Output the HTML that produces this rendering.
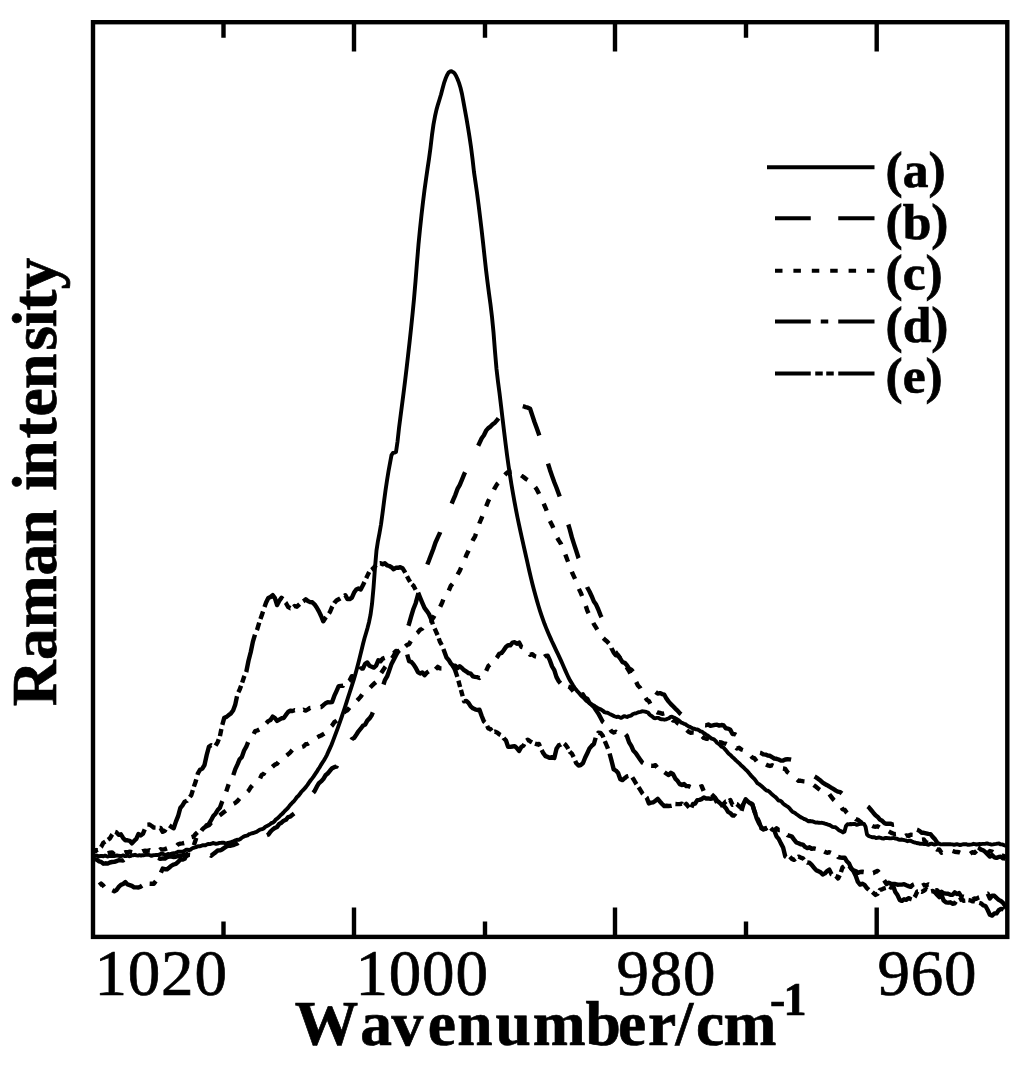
<!DOCTYPE html>
<html><head><meta charset="utf-8"><title>Raman spectra</title>
<style>
html,body{margin:0;padding:0;background:#fff;}
svg{display:block;}
text{font-family:"Liberation Serif","Times New Roman",serif;fill:#000;font-kerning:none;font-feature-settings:"kern" 0;stroke:#000;stroke-width:0.7;}
.b{font-weight:bold;}
</style></head><body>
<svg width="1024" height="1074" viewBox="0 0 1024 1074">
<rect x="0" y="0" width="1024" height="1074" fill="#fff"/>
<defs><clipPath id="pa"><rect x="93" y="22.2" width="914.3" height="914.6999999999999"/></clipPath></defs>
<g fill="none" stroke="#000" stroke-width="4.4" stroke-linejoin="round" clip-path="url(#pa)">
<!-- (a) -->
<path d="M94.5,855.5 L96.0,855.6 L97.5,855.8 L99.0,856.3 L100.5,856.0 L102.0,856.0 L103.5,856.2 L105.0,855.6 L106.5,856.1 L108.0,856.5 L109.5,856.0 L111.0,855.9 L112.5,856.1 L114.0,856.0 L115.5,855.8 L117.0,855.4 L118.5,855.8 L120.0,856.0 L121.5,856.0 L123.0,855.4 L124.5,856.0 L126.0,856.1 L127.5,855.7 L129.0,856.2 L130.5,856.1 L132.0,855.2 L133.5,855.2 L135.0,854.8 L136.5,855.4 L138.0,855.6 L139.5,855.2 L141.0,855.6 L142.5,855.1 L144.0,855.2 L145.5,854.8 L147.0,854.6 L148.5,854.7 L150.0,855.3 L151.5,855.9 L153.0,855.3 L154.5,855.1 L156.0,855.0 L157.5,855.0 L159.0,854.6 L160.5,854.0 L162.0,853.7 L163.5,854.2 L165.0,855.1 L166.5,854.7 L168.0,853.9 L169.5,854.3 L171.0,854.0 L172.5,853.4 L174.0,853.1 L175.5,852.8 L177.0,852.3 L178.5,851.6 L180.0,851.7 L181.5,851.6 L183.0,851.5 L184.5,850.9 L186.0,849.8 L187.5,849.7 L189.0,850.2 L190.5,849.6 L192.0,848.5 L193.5,847.8 L195.0,847.3 L196.5,847.0 L198.0,846.3 L199.5,846.4 L201.0,845.9 L202.5,845.2 L204.0,845.2 L205.5,845.2 L207.0,844.4 L208.5,844.0 L210.0,844.1 L211.5,843.7 L213.0,843.0 L214.5,843.3 L216.0,843.8 L217.5,843.6 L219.0,843.0 L220.5,842.9 L222.0,842.8 L223.5,842.7 L225.0,843.1 L226.5,843.4 L228.0,843.0 L229.5,842.6 L231.0,842.2 L232.5,841.7 L234.0,841.0 L235.5,840.3 L237.0,839.8 L238.5,839.9 L240.0,839.3 L241.5,838.0 L243.0,837.0 L244.5,836.2 L246.0,835.8 L247.5,835.4 L249.0,834.2 L250.5,833.8 L252.0,833.2 L253.5,833.0 L255.0,832.4 L256.5,831.9 L258.0,830.9 L259.5,829.9 L261.0,829.3 L262.5,829.0 L264.0,828.2 L265.5,826.7 L267.0,826.0 L268.5,825.3 L270.0,824.2 L271.5,823.0 L273.0,822.6 L274.5,821.2 L276.0,819.3 L277.5,818.3 L279.0,817.0 L280.5,815.3 L282.0,814.0 L283.5,812.5 L285.0,810.8 L286.5,809.4 L288.0,807.8 L289.5,805.8 L291.0,804.1 L292.5,802.5 L294.0,801.1 L295.5,799.1 L297.0,797.0 L298.5,795.7 L300.0,793.8 L301.5,791.6 L303.0,790.3 L304.5,788.6 L306.0,786.9 L307.5,784.9 L309.0,782.6 L310.5,780.5 L312.0,778.6 L313.5,776.6 L315.0,774.4 L316.5,772.2 L318.0,769.7 L319.5,767.5 L321.0,764.9 L322.5,762.5 L324.0,760.2 L325.5,757.6 L327.0,754.8 L328.5,751.4 L330.0,748.1 L331.5,744.7 L333.0,740.9 L334.5,736.9 L336.0,732.9 L337.5,728.9 L339.0,724.7 L340.5,720.4 L342.0,716.0 L343.5,711.5 L345.0,707.0 L346.5,702.3 L348.0,697.7 L349.5,693.0 L351.0,688.4 L352.5,683.7 L354.0,678.9 L355.5,673.8 L357.0,668.3 L358.5,662.5 L360.0,656.4 L361.5,650.2 L363.0,644.0 L364.5,638.2 L366.0,633.2 L367.5,628.1 L369.0,622.2 L370.5,614.9 L372.0,604.1 L373.5,587.9 L375.0,567.5 L376.5,550.4 L378.0,540.8 L379.5,533.1 L381.0,524.5 L382.5,513.6 L384.0,501.8 L385.5,490.4 L387.0,480.5 L388.5,471.3 L390.0,463.2 L391.5,455.1 L393.0,452.9 L394.5,452.6 L396.0,452.0 L397.5,441.7 L399.0,428.1 L400.5,416.4 L402.0,404.9 L403.5,393.4 L405.0,381.5 L406.5,369.0 L408.0,356.1 L409.5,342.7 L411.0,328.9 L412.5,314.4 L414.0,299.0 L415.5,281.5 L417.0,262.4 L418.5,244.4 L420.0,229.0 L421.5,215.0 L423.0,202.1 L424.5,190.1 L426.0,179.3 L427.5,168.9 L429.0,158.9 L430.5,147.8 L432.0,134.9 L433.5,124.4 L435.0,116.3 L436.5,109.6 L438.0,104.3 L439.5,99.5 L441.0,94.5 L442.5,88.7 L444.0,83.2 L445.5,78.8 L447.0,75.3 L448.5,72.6 L450.0,71.5 L451.5,71.3 L453.0,72.1 L454.5,73.3 L456.0,75.7 L457.5,79.0 L459.0,82.9 L460.5,87.8 L462.0,94.0 L463.5,102.1 L465.0,110.3 L466.5,118.7 L468.0,127.5 L469.5,136.9 L471.0,147.0 L472.5,158.7 L474.0,172.1 L475.5,182.4 L477.0,192.7 L478.5,204.2 L480.0,216.4 L481.5,229.0 L483.0,242.3 L484.5,256.1 L486.0,269.7 L487.5,282.1 L489.0,293.4 L490.5,304.6 L492.0,317.0 L493.5,332.2 L495.0,351.5 L496.5,369.0 L498.0,381.8 L499.5,393.1 L501.0,405.4 L502.5,418.3 L504.0,430.7 L505.5,442.9 L507.0,454.7 L508.5,465.6 L510.0,475.4 L511.5,484.7 L513.0,493.5 L514.5,501.8 L516.0,509.8 L517.5,517.5 L519.0,524.7 L520.5,531.7 L522.0,538.4 L523.5,545.1 L525.0,551.7 L526.5,558.4 L528.0,565.1 L529.5,571.7 L531.0,578.1 L532.5,584.3 L534.0,590.1 L535.5,595.6 L537.0,600.9 L538.5,606.0 L540.0,610.8 L541.5,615.4 L543.0,619.7 L544.5,623.8 L546.0,627.6 L547.5,631.2 L549.0,634.7 L550.5,638.1 L552.0,641.5 L553.5,644.7 L555.0,647.9 L556.5,651.1 L558.0,654.2 L559.5,657.4 L561.0,660.6 L562.5,664.0 L564.0,667.5 L565.5,670.9 L567.0,674.2 L568.5,677.5 L570.0,680.4 L571.5,682.8 L573.0,685.3 L574.5,687.6 L576.0,689.6 L577.5,691.4 L579.0,693.0 L580.5,694.9 L582.0,696.5 L583.5,697.6 L585.0,699.3 L586.5,700.9 L588.0,701.9 L589.5,702.9 L591.0,704.1 L592.5,705.0 L594.0,705.6 L595.5,706.8 L597.0,707.5 L598.5,708.5 L600.0,709.1 L601.5,709.8 L603.0,710.8 L604.5,712.2 L606.0,712.6 L607.5,712.7 L609.0,713.6 L610.5,714.4 L612.0,715.0 L613.5,715.9 L615.0,716.5 L616.5,717.0 L618.0,716.6 L619.5,717.3 L621.0,717.9 L622.5,717.2 L624.0,716.2 L625.5,716.5 L627.0,717.0 L628.5,716.2 L630.0,715.8 L631.5,715.3 L633.0,714.0 L634.5,713.5 L636.0,713.4 L637.5,712.6 L639.0,712.2 L640.5,711.8 L642.0,711.3 L643.5,711.4 L645.0,711.7 L646.5,712.0 L648.0,712.5 L649.5,714.5 L651.0,715.7 L652.5,716.7 L654.0,718.0 L655.5,718.2 L657.0,717.9 L658.5,717.9 L660.0,718.9 L661.5,719.3 L663.0,719.4 L664.5,719.7 L666.0,719.4 L667.5,718.8 L669.0,718.2 L670.5,716.9 L672.0,716.7 L673.5,717.4 L675.0,718.1 L676.5,719.0 L678.0,719.9 L679.5,721.0 L681.0,722.4 L682.5,723.1 L684.0,723.8 L685.5,724.2 L687.0,725.4 L688.5,726.3 L690.0,726.8 L691.5,727.8 L693.0,728.5 L694.5,728.7 L696.0,729.4 L697.5,729.5 L699.0,730.3 L700.5,731.4 L702.0,731.6 L703.5,733.0 L705.0,733.8 L706.5,734.8 L708.0,735.7 L709.5,736.9 L711.0,738.3 L712.5,738.8 L714.0,739.3 L715.5,740.8 L717.0,742.7 L718.5,743.8 L720.0,744.9 L721.5,746.6 L723.0,747.2 L724.5,748.7 L726.0,750.4 L727.5,752.3 L729.0,753.9 L730.5,755.1 L732.0,756.7 L733.5,757.9 L735.0,759.5 L736.5,760.9 L738.0,762.2 L739.5,763.4 L741.0,765.2 L742.5,766.5 L744.0,767.9 L745.5,769.5 L747.0,770.7 L748.5,772.5 L750.0,774.4 L751.5,776.1 L753.0,777.7 L754.5,779.2 L756.0,781.2 L757.5,783.3 L759.0,784.1 L760.5,785.2 L762.0,786.5 L763.5,787.9 L765.0,789.3 L766.5,790.6 L768.0,790.8 L769.5,791.9 L771.0,793.4 L772.5,794.8 L774.0,796.0 L775.5,797.1 L777.0,798.7 L778.5,800.5 L780.0,800.6 L781.5,801.6 L783.0,803.4 L784.5,804.7 L786.0,805.7 L787.5,806.6 L789.0,807.8 L790.5,809.6 L792.0,811.3 L793.5,812.3 L795.0,813.0 L796.5,814.2 L798.0,815.3 L799.5,816.4 L801.0,817.4 L802.5,818.0 L804.0,819.0 L805.5,819.4 L807.0,820.4 L808.5,821.3 L810.0,821.0 L811.5,821.3 L813.0,821.5 L814.5,822.1 L816.0,822.6 L817.5,822.5 L819.0,822.8 L820.5,822.9 L822.0,822.8 L823.5,823.1 L825.0,823.6 L826.5,824.0 L828.0,824.6 L829.5,825.0 L831.0,825.9 L832.5,826.8 L834.0,827.1 L835.5,827.2 L837.0,828.4 L838.5,829.9 L840.0,830.8 L841.5,831.4 L843.0,832.4 L844.5,831.5 L846.0,826.0 L847.5,824.3 L849.0,824.4 L850.5,824.0 L852.0,824.2 L853.5,823.9 L855.0,824.0 L856.5,824.7 L858.0,824.5 L859.5,824.0 L861.0,823.7 L862.5,823.8 L864.0,823.9 L865.5,826.6 L867.0,834.5 L868.5,835.9 L870.0,836.5 L871.5,837.0 L873.0,837.3 L874.5,837.3 L876.0,838.0 L877.5,837.9 L879.0,837.4 L880.5,837.8 L882.0,838.4 L883.5,838.6 L885.0,838.0 L886.5,837.9 L888.0,838.1 L889.5,838.3 L891.0,838.4 L892.5,838.1 L894.0,838.0 L895.5,838.6 L897.0,838.7 L898.5,839.5 L900.0,839.8 L901.5,839.5 L903.0,839.8 L904.5,840.2 L906.0,840.5 L907.5,841.2 L909.0,840.9 L910.5,840.6 L912.0,841.5 L913.5,842.1 L915.0,842.5 L916.5,843.0 L918.0,843.2 L919.5,843.7 L921.0,843.7 L922.5,843.9 L924.0,844.0 L925.5,843.9 L927.0,844.4 L928.5,844.8 L930.0,844.0 L931.5,843.7 L933.0,844.2 L934.5,844.6 L936.0,844.1 L937.5,843.8 L939.0,843.4 L940.5,844.3 L942.0,844.4 L943.5,844.1 L945.0,844.2 L946.5,844.3 L948.0,844.3 L949.5,844.1 L951.0,844.3 L952.5,844.4 L954.0,844.8 L955.5,844.5 L957.0,844.2 L958.5,844.6 L960.0,845.0 L961.5,844.8 L963.0,844.2 L964.5,844.2 L966.0,844.1 L967.5,844.7 L969.0,844.8 L970.5,844.6 L972.0,844.3 L973.5,843.8 L975.0,844.1 L976.5,844.5 L978.0,844.3 L979.5,843.9 L981.0,844.1 L982.5,843.9 L984.0,843.9 L985.5,843.7 L987.0,843.4 L988.5,843.9 L990.0,844.2 L991.5,844.6 L993.0,844.4 L994.5,844.1 L996.0,843.9 L997.5,843.6 L999.0,843.5 L1000.5,844.4 L1002.0,844.4 L1003.5,844.9 L1005.0,845.6 L1005.5,845.2" stroke-width="3.9"/>
<!-- (b) -->
<path d="M94.5,859.1 L96.7,859.6 L98.9,861.3 L101.1,861.8 L103.3,863.7 L105.5,863.3 L107.7,863.6 L109.9,862.5 L112.1,862.0 L114.3,861.9 L116.5,861.1 L118.7,860.3 L120.9,860.4 L123.1,860.5 L124.1,859.8 M158.0,857.9 L158.3,858.0 L160.5,858.9 L162.7,858.4 L164.9,858.6 L167.1,857.1 L169.3,856.6 L171.5,856.6 L173.7,857.0 L175.9,856.7 L178.1,856.1 L180.3,856.1 L182.5,855.3 L184.7,855.0 L186.9,855.9 L189.1,854.8 L190.1,854.9 M210.4,855.2 L211.1,855.7 L213.3,854.0 L215.5,852.4 L217.7,850.5 L219.9,850.4 L222.1,849.4 L224.3,847.9 L226.5,846.4 L228.7,845.6 L230.9,845.7 L233.1,845.2 L235.3,844.3 L237.5,843.4 L238.2,842.8 M266.9,835.2 L268.3,834.6 L270.5,831.6 L272.7,829.5 L274.9,827.9 L277.1,826.9 L279.3,823.9 L281.5,822.7 L283.7,820.7 L285.9,819.8 L288.1,817.1 L290.3,816.7 L292.5,814.7 L294.1,813.5 M313.2,792.7 L314.5,791.2 L316.7,786.9 L318.9,783.2 L321.1,781.4 L323.3,779.1 L325.5,775.3 L327.7,773.5 L329.9,770.8 L332.1,768.3 L334.3,767.2 L336.5,766.7 L336.9,765.6 M351.4,739.9 L351.9,739.1 L354.1,737.9 L356.3,734.7 L358.5,731.3 L360.7,728.7 L362.9,725.7 L365.1,724.6 L367.3,720.6 L369.5,718.4 L371.7,715.2 L372.8,712.4 M383.5,684.5 L384.9,680.1 L387.1,676.4 L389.3,670.3 L391.5,663.9 L393.7,659.7 L395.9,655.4 L397.7,652.2 M408.4,625.7 L409.1,623.6 L411.3,615.9 L413.5,608.7 L415.7,603.2 L417.9,595.2 L418.5,593.2 M427.3,564.5 L428.9,560.6 L431.1,554.7 L433.3,549.0 L435.5,542.5 L437.7,537.7 L439.9,532.8 L440.1,532.1 M451.7,503.6 L453.1,500.2 L455.3,495.1 L457.5,488.9 L459.7,485.1 L461.9,479.8 L464.1,474.4 L465.1,472.3 M478.2,445.7 L479.5,443.0 L481.7,438.3 L483.9,435.3 L486.1,430.7 L488.3,428.1 L490.5,426.6 L492.7,424.3 L494.9,422.7 L497.1,420.1 L498.5,418.2 M522.8,406.1 L523.5,406.3 L525.7,407.1 L527.9,407.7 L530.1,408.8 L532.3,415.4 L534.5,422.0 L536.7,428.1 L538.9,434.3 L539.3,435.5 M548.0,463.7 L549.9,469.7 L552.1,476.1 L554.3,482.3 L556.5,487.8 L558.7,493.8 L559.7,496.5 M568.3,524.5 L569.7,529.1 L571.9,537.4 L574.1,544.3 L576.3,551.0 L578.5,558.0 L578.6,558.2 M587.1,587.0 L587.3,587.5 L589.5,591.5 L591.7,596.2 L593.9,601.5 L596.1,604.6 L598.3,609.5 L600.5,615.1 L601.5,617.2 M611.5,648.2 L611.5,648.3 L613.7,652.6 L615.9,655.3 L618.1,655.2 L620.3,658.6 L622.5,662.1 L624.7,662.8 L626.9,665.3 L629.1,668.5 L631.3,669.6 L633.0,671.7 M655.6,692.0 L657.7,693.6 L659.9,693.1 L662.1,694.1 L664.3,694.7 L666.5,698.7 L668.7,701.6 L670.9,704.1 L673.1,706.3 L675.3,708.6 L677.5,710.6 L679.7,713.2 L681.1,714.3 M705.1,725.2 L706.1,725.3 L708.3,724.5 L710.5,725.8 L712.7,725.4 L714.9,724.9 L717.1,724.7 L719.3,725.6 L721.5,725.0 L723.7,725.5 L725.9,728.3 L728.1,728.6 L730.3,729.8 L732.5,734.0 L734.7,734.1 L736.1,734.9 M760.0,752.8 L761.1,753.0 L763.3,754.4 L765.5,754.6 L767.7,755.6 L769.9,755.8 L772.1,757.2 L774.3,758.5 L776.5,758.8 L778.7,759.5 L780.9,760.6 L783.1,760.5 L785.3,759.5 L787.5,759.2 L789.7,759.4 L791.1,759.7 M814.6,776.5 L816.1,777.4 L818.3,778.9 L820.5,780.6 L822.7,782.7 L824.9,784.0 L827.1,785.2 L829.3,786.5 L831.5,787.9 L833.7,789.2 L835.9,790.6 L838.1,791.7 L840.3,792.1 L841.9,793.5 M867.7,806.4 L868.9,807.3 L871.1,810.0 L873.3,812.7 L875.5,815.2 L877.7,816.9 L879.9,819.6 L882.1,820.8 L884.3,823.1 L886.5,823.8 L888.7,823.6 L890.9,823.7 L893.1,824.7 L894.0,824.6 M917.0,829.7 L917.3,829.8 L919.5,830.9 L921.7,832.7 L923.9,832.8 L926.1,833.3 L928.3,833.9 L930.5,834.1 L932.7,836.9 L934.9,839.1 L937.1,842.4 L937.7,842.9 M978.0,847.5 L978.9,847.9 L981.1,849.7 L983.3,850.3 L985.5,852.2 L987.7,854.4 L989.9,856.6 L992.1,855.1 L994.3,857.3 L996.5,857.9 L998.7,856.9 L1000.9,856.8 L1003.1,858.4 L1005.3,858.5 L1005.5,858.8"/>
<!-- (c) -->
<path d="M94.5,850.3 L96.7,850.2 L98.9,850.7 L101.1,851.3 L103.3,851.9 L105.5,852.9 L107.7,853.3 L109.9,852.6 L112.1,852.4 L114.3,854.5 L116.5,853.7 L118.7,853.3 L120.9,852.2 L123.1,853.2 L125.3,852.3 L127.5,852.3 L129.7,851.7 L131.9,852.1 L134.1,852.6 L136.3,851.5 L138.5,851.7 L140.7,852.1 L142.9,851.1 L145.1,850.8 L147.3,850.9 L149.5,850.3 L151.7,851.4 L153.9,850.3 L156.1,851.0 L158.3,851.0 L160.5,849.3 L162.7,849.6 L164.9,849.1 L167.1,848.3 L169.3,848.1 L171.5,847.4 L173.7,847.1 L175.9,846.6 L178.1,844.3 L180.3,843.6 L182.5,843.4 L184.7,842.9 L186.9,838.9 L189.1,839.4 L191.3,837.3 L193.5,836.7 L195.7,834.0 L197.9,832.0 L200.1,831.0 L202.3,830.4 L204.5,828.3 L206.7,825.1 L208.9,825.4 L211.1,822.8 L213.3,821.4 L215.5,819.3 L217.7,816.9 L219.9,815.2 L222.1,813.5 L224.3,811.8 L226.5,810.2 L228.7,808.1 L230.9,805.3 L233.1,804.0 L235.3,802.9 L237.5,801.0 L239.7,798.4 L241.9,796.5 L244.1,794.6 L246.3,792.7 L248.5,790.8 L250.7,787.3 L252.9,784.9 L255.1,783.9 L257.3,781.9 L259.5,779.7 L261.7,774.9 L263.9,773.7 L266.1,769.8 L268.3,770.3 L270.5,768.5 L272.7,766.5 L274.9,764.6 L277.1,763.7 L279.3,761.0 L281.5,759.9 L283.7,757.9 L285.9,756.0 L288.1,754.3 L290.3,752.3 L292.5,749.7 L294.7,749.7 L296.9,749.0 L299.1,747.5 L301.3,747.2 L303.5,746.5 L305.7,744.2 L307.9,743.8 L310.1,742.3 L312.3,740.5 L314.5,739.8 L316.7,737.7 L318.9,736.4 L321.1,735.5 L323.3,734.2 L325.5,732.8 L327.7,731.7 L329.9,727.7 L332.1,725.5 L334.3,722.2 L336.5,720.8 L338.7,719.1 L340.9,717.0 L343.1,713.6 L345.3,711.3 L347.5,710.2 L349.7,707.3 L351.9,705.6 L354.1,702.2 L356.3,701.3 L358.5,699.1 L360.7,696.6 L362.9,693.6 L365.1,691.9 L367.3,690.1 L369.5,688.2 L371.7,685.9 L373.9,683.8 L376.1,682.0 L378.3,679.5 L380.5,674.1 L382.7,670.8 L384.9,667.4 L387.1,664.7 L389.3,660.8 L391.5,658.9 L393.7,655.6 L395.9,652.0 L398.1,650.2 L400.3,649.4 L402.5,648.2 L404.7,647.0 L406.9,645.0 L409.1,644.1 L411.3,640.2 L413.5,639.2 L415.7,633.9 L417.9,632.4 L420.1,629.7 L422.3,628.6 L424.5,625.1 L426.7,624.9 L428.9,620.8 L431.1,620.6 L433.3,617.7 L435.5,613.6 L437.7,610.0 L439.9,607.3 L442.1,602.8 L444.3,596.7 L446.5,594.9 L448.7,590.9 L450.9,585.7 L453.1,583.2 L455.3,578.1 L457.5,574.7 L459.7,570.8 L461.9,565.7 L464.1,561.4 L466.3,555.3 L468.5,550.8 L470.7,545.2 L472.9,540.1 L475.1,536.3 L477.3,529.7 L479.5,523.0 L481.7,517.9 L483.9,511.8 L486.1,506.6 L488.3,501.0 L490.5,496.7 L492.7,492.5 L494.9,487.8 L497.1,484.2 L499.3,482.2 L501.5,478.6 L503.7,476.2 L505.9,473.8 L508.1,472.1 L510.3,471.9 L512.5,471.6 L514.7,472.8 L516.9,472.8 L519.1,473.9 L521.3,475.5 L523.5,477.0 L525.7,478.8 L527.9,480.1 L530.1,481.3 L532.3,484.4 L534.5,486.2 L536.7,489.2 L538.9,493.5 L541.1,498.2 L543.3,502.6 L545.5,507.8 L547.7,513.5 L549.9,520.9 L552.1,525.2 L554.3,530.3 L556.5,536.4 L558.7,540.4 L560.9,543.7 L563.1,549.9 L565.3,554.4 L567.5,560.3 L569.7,565.8 L571.9,572.0 L574.1,576.8 L576.3,581.5 L578.5,588.1 L580.7,592.6 L582.9,598.0 L585.1,603.7 L587.3,610.6 L589.5,615.3 L591.7,619.5 L593.9,624.1 L596.1,627.7 L598.3,631.3 L600.5,632.9 L602.7,637.5 L604.9,639.7 L607.1,641.5 L609.3,644.0 L611.5,647.2 L613.7,650.4 L615.9,652.4 L618.1,655.7 L620.3,658.1 L622.5,662.1 L624.7,665.7 L626.9,667.5 L629.1,671.1 L631.3,675.4 L633.5,677.1 L635.7,681.0 L637.9,685.5 L640.1,687.7 L642.3,692.0 L644.5,696.1 L646.7,699.7 L648.9,701.1 L651.1,705.4 L653.3,707.9 L655.5,711.3 L657.7,712.5 L659.9,712.9 L662.1,713.8 L664.3,713.3 L666.5,714.2 L668.7,715.7 L670.9,717.9 L673.1,720.6 L675.3,720.7 L677.5,723.1 L679.7,724.3 L681.9,725.8 L684.1,729.1 L686.3,729.7 L688.5,731.7 L690.7,732.7 L692.9,732.4 L695.1,732.6 L697.3,736.3 L699.5,735.9 L701.7,736.0 L703.9,738.0 L706.1,738.7 L708.3,738.9 L710.5,739.9 L712.7,741.1 L714.9,741.5 L717.1,742.4 L719.3,742.1 L721.5,742.4 L723.7,743.4 L725.9,743.7 L728.1,744.8 L730.3,744.9 L732.5,745.7 L734.7,746.0 L736.9,748.5 L739.1,747.8 L741.3,749.5 L743.5,750.2 L745.7,752.7 L747.9,754.9 L750.1,755.1 L752.3,757.5 L754.5,758.4 L756.7,761.3 L758.9,761.2 L761.1,760.9 L763.3,762.1 L765.5,764.3 L767.7,765.4 L769.9,766.0 L772.1,765.3 L774.3,766.2 L776.5,768.2 L778.7,767.5 L780.9,768.2 L783.1,768.5 L785.3,769.0 L787.5,772.2 L789.7,773.7 L791.9,775.1 L794.1,776.8 L796.3,778.8 L798.5,780.8 L800.7,780.8 L802.9,781.2 L805.1,781.4 L807.3,783.6 L809.5,783.5 L811.7,783.5 L813.9,785.2 L816.1,786.8 L818.3,788.7 L820.5,790.2 L822.7,790.3 L824.9,791.3 L827.1,792.9 L829.3,794.2 L831.5,797.1 L833.7,799.9 L835.9,801.9 L838.1,803.0 L840.3,805.2 L842.5,809.1 L844.7,809.9 L846.9,812.9 L849.1,815.2 L851.3,816.3 L853.5,817.1 L855.7,819.1 L857.9,819.9 L860.1,821.5 L862.3,823.1 L864.5,823.9 L866.7,825.0 L868.9,825.5 L871.1,825.3 L873.3,826.4 L875.5,826.7 L877.7,826.3 L879.9,827.6 L882.1,828.3 L884.3,828.8 L886.5,828.7 L888.7,831.4 L890.9,832.6 L893.1,833.5 L895.3,834.2 L897.5,834.0 L899.7,835.0 L901.9,834.6 L904.1,836.7 L906.3,835.4 L908.5,836.0 L910.7,834.8 L912.9,834.9 L915.1,835.5 L917.3,837.4 L919.5,838.7 L921.7,839.7 L923.9,839.5 L926.1,842.5 L928.3,842.7 L930.5,845.6 L932.7,847.5 L934.9,848.2 L937.1,849.6 L939.3,849.5 L941.5,852.7 L943.7,851.7 L945.9,852.1 L948.1,851.1 L950.3,851.5 L952.5,851.0 L954.7,851.7 L956.9,852.0 L959.1,852.3 L961.3,853.2 L963.5,852.8 L965.7,852.6 L967.9,852.5 L970.1,853.9 L972.3,852.2 L974.5,852.9 L976.7,850.8 L978.9,850.9 L981.1,851.8 L983.3,851.3 L985.5,853.2 L987.7,853.1 L989.9,851.0 L992.1,851.6 L994.3,853.1 L996.5,855.3 L998.7,856.0 L1000.9,856.2 L1003.1,855.7 L1005.3,856.7 L1005.5,855.6" stroke-dasharray="7.8 10.7" stroke-dashoffset="4.8"/>
<!-- (d) -->
<path d="M94.5,883.2 L96.7,885.0 L98.9,885.5 L101.1,883.6 L103.3,885.7 L105.5,888.5 L107.7,888.3 L109.9,888.5 L112.1,890.2 L112.3,890.3" pathLength="23.33" stroke-dasharray="36 10 7.5 10" stroke-dashoffset="40.17"/>
<path d="M112.3,890.3 L114.3,891.2 L116.5,890.1 L118.7,886.9 L120.9,884.9 L123.1,884.0 L125.3,882.1 L127.5,884.4 L129.7,885.1 L131.9,885.9 L134.1,887.4 L136.3,887.4 L138.5,887.5 L140.7,886.6 L142.9,885.1 L145.1,886.9 L147.3,883.8 L149.5,883.7 L151.7,883.8 L153.9,883.7 L156.1,880.8 L158.3,878.2 L160.5,873.7 L160.9,872.7" pathLength="63.50" stroke-dasharray="36 10 7.5 10"/>
<path d="M160.9,872.7 L162.7,868.6 L164.9,869.2 L167.1,869.3 L169.3,867.5 L171.5,865.6 L173.7,864.5 L175.9,863.9 L178.1,861.9 L180.3,859.6 L182.5,859.6 L184.7,858.8 L186.9,854.1 L189.1,853.4 L191.3,849.2 L193.5,846.4 L195.7,839.7 L197.9,832.5 L200.1,832.7 L202.3,829.4 L204.5,827.4 L206.7,826.1 L208.9,823.9 L211.1,820.2 L213.3,816.0 L215.5,813.7 L217.7,810.0 L219.9,807.7 L222.1,801.7 L224.3,796.9 L226.5,790.7 L228.7,784.1 L230.9,780.1 L233.1,775.7 L233.3,775.1" pathLength="127.00" stroke-dasharray="36 10 7.5 10"/>
<path d="M233.3,775.1 L235.3,769.1 L237.5,764.4 L239.7,759.2 L241.9,756.9 L244.1,750.5 L246.3,746.7 L248.5,741.1 L250.7,739.0 L252.9,735.8 L255.1,731.1 L257.3,730.5 L259.5,729.4 L261.7,725.2 L263.9,725.0 L266.1,723.5 L266.3,723.3" pathLength="63.50" stroke-dasharray="36 10 7.5 10"/>
<path d="M266.3,723.3 L268.3,721.1 L270.5,720.0 L272.7,716.6 L274.9,718.0 L277.1,720.9 L279.3,719.6 L281.5,718.3 L283.7,718.0 L285.9,714.9 L288.1,712.0 L290.3,710.7 L292.5,711.0 L294.7,710.2 L296.9,710.6 L299.1,708.6 L301.3,710.8 L303.5,709.8 L305.7,710.6 L307.9,709.4 L310.1,707.9 L312.3,707.8 L314.5,706.8 L316.7,706.7 L318.9,707.1 L320.6,707.0" pathLength="63.50" stroke-dasharray="36 10 7.5 10"/>
<path d="M320.6,707.0 L321.1,707.0 L323.3,705.2 L325.5,703.3 L327.7,702.3 L329.9,702.4 L332.1,702.1 L334.3,695.9 L336.5,691.1 L338.7,686.1 L340.9,685.9 L343.1,685.7 L345.3,680.8 L347.5,682.2 L349.7,680.3 L351.9,676.1 L354.1,676.3 L356.3,674.2 L358.5,672.4 L360.0,669.7" pathLength="63.50" stroke-dasharray="36 10 7.5 10"/>
<path d="M360.0,669.7 L360.7,668.5 L362.9,668.6 L365.1,663.8 L367.3,662.5 L369.5,665.8 L371.7,666.7 L373.9,667.6 L376.1,665.7 L378.3,660.3 L380.5,661.3 L382.7,658.6 L384.9,657.8 L387.1,657.4 L389.3,654.8 L391.5,654.3 L393.7,653.3 L395.9,650.9 L398.1,651.5 L400.3,649.7 L402.5,650.1 L404.7,650.4 L406.9,653.7 L407.2,654.5" pathLength="63.50" stroke-dasharray="36 10 7.5 10"/>
<path d="M407.2,654.5 L409.1,661.1 L411.3,661.8 L413.5,664.4 L415.7,667.7 L417.9,672.1 L420.1,673.5 L422.3,672.5 L424.5,675.2 L426.7,672.7 L428.9,671.2 L431.1,667.5 L433.3,667.2 L435.5,669.2 L437.7,666.9 L439.9,668.4 L442.1,668.5 L444.3,668.0 L446.5,668.0 L448.7,667.6 L450.9,667.5 L451.2,667.3" pathLength="63.50" stroke-dasharray="36 10 7.5 10"/>
<path d="M451.2,667.3 L453.1,666.1 L455.3,665.7 L457.5,668.1 L459.7,666.2 L461.9,667.9 L464.1,670.2 L466.3,671.5 L468.5,673.1 L470.7,673.7 L472.9,676.3 L475.1,676.8 L477.3,677.2 L479.5,678.0 L481.7,676.4 L483.9,675.3 L486.1,671.0 L488.3,666.1 L490.5,664.4 L492.7,661.5 L494.9,660.0 L496.6,657.9" pathLength="63.50" stroke-dasharray="36 10 7.5 10"/>
<path d="M496.6,657.9 L497.1,657.2 L499.3,653.8 L501.5,653.0 L503.7,650.3 L505.9,647.0 L508.1,645.2 L510.3,645.4 L512.5,642.6 L514.7,642.2 L516.9,643.8 L519.1,642.6 L521.3,646.8 L523.5,647.5 L525.7,648.8 L527.9,651.4 L530.1,654.8 L532.3,654.1 L534.5,656.2 L536.7,656.7 L538.9,655.5 L541.1,658.3 L543.3,657.6 L544.3,656.8" pathLength="63.50" stroke-dasharray="36 10 7.5 10"/>
<path d="M544.3,656.8 L545.5,655.9 L547.7,655.8 L549.9,660.4 L552.1,666.5 L554.3,670.2 L556.5,677.1 L558.7,681.1 L560.9,683.8 L563.1,684.8 L565.3,687.1 L567.5,686.3 L569.7,687.0 L571.9,689.4 L574.1,692.3 L576.3,693.2 L578.5,694.1 L580.7,694.9 L581.8,694.6" pathLength="63.50" stroke-dasharray="36 10 7.5 10"/>
<path d="M581.8,694.6 L582.9,694.3 L585.1,697.8 L587.3,698.7 L589.5,703.1 L591.7,704.8 L593.9,706.8 L596.1,710.3 L598.3,713.4 L600.5,717.5 L602.7,721.7 L604.9,723.3 L607.1,724.4 L609.3,728.0 L611.5,731.4 L613.7,732.5 L615.9,731.7 L618.1,732.9 L620.3,732.5 L622.5,733.7 L624.7,733.3 L625.6,734.5" pathLength="63.50" stroke-dasharray="36 10 7.5 10"/>
<path d="M625.6,734.5 L626.9,736.0 L629.1,742.4 L631.3,745.9 L633.5,750.8 L635.7,753.0 L637.9,756.3 L640.1,759.4 L642.3,762.6 L644.5,763.8 L646.7,765.1 L648.9,763.9 L651.1,765.8 L653.3,765.9 L655.5,765.2 L657.7,768.2 L659.9,769.2 L662.1,771.9 L664.3,772.1 L664.5,772.3" pathLength="63.50" stroke-dasharray="36 10 7.5 10"/>
<path d="M664.5,772.3 L666.5,773.7 L668.7,775.1 L670.9,772.8 L673.1,774.2 L675.3,778.6 L677.5,780.8 L679.7,784.1 L681.9,785.0 L684.1,784.0 L686.3,786.1 L688.5,786.1 L690.7,787.0 L692.9,787.1 L695.1,788.1 L697.3,786.8 L699.5,787.0 L701.7,786.2 L703.9,791.6 L706.1,790.7 L708.3,791.9 L710.5,793.2 L711.6,794.3" pathLength="63.50" stroke-dasharray="36 10 7.5 10"/>
<path d="M711.6,794.3 L712.7,795.3 L714.9,797.6 L717.1,800.8 L719.3,802.5 L721.5,804.6 L723.7,805.8 L725.9,808.2 L728.1,811.9 L730.3,813.1 L732.5,815.5 L734.7,815.4 L736.9,817.4 L739.1,814.1 L741.3,811.5 L743.5,803.9 L745.7,802.5 L747.9,800.3 L750.1,802.7 L752.3,804.2 L754.5,811.1 L756.7,818.3 L758.9,823.0 L761.1,826.9 L763.3,829.3 L765.5,828.2 L767.7,827.6 L769.9,827.3 L772.1,826.5 L774.3,830.3 L776.5,828.3 L778.7,830.0 L780.9,829.9 L783.1,832.1 L785.3,832.9 L787.5,835.1 L789.7,835.8 L791.9,836.6 L794.1,839.6 L796.3,842.4 L798.5,843.2 L800.7,844.3 L802.9,844.6 L805.1,846.9 L807.3,848.1 L809.5,847.3 L811.7,848.9 L813.9,848.4 L816.1,848.9 L818.3,848.4 L820.5,849.1 L822.7,850.7 L824.9,851.9 L827.1,852.8 L829.3,852.2 L831.5,853.1 L833.7,854.6 L835.9,853.6 L838.1,857.0 L840.3,857.5 L842.5,857.8 L844.7,857.7 L846.9,861.3 L849.1,863.5 L851.3,868.6 L853.5,870.4 L855.7,871.0 L857.9,872.9 L860.1,872.0 L862.3,871.8 L864.5,872.1 L866.7,872.3 L868.9,872.7 L871.1,873.3 L873.3,873.0 L875.5,871.8 L877.7,870.9 L879.9,873.5 L882.1,877.3 L884.3,880.5 L886.5,884.0 L888.7,882.7 L890.9,883.8 L893.1,884.0 L895.3,884.0 L897.5,884.7 L899.7,884.6 L901.9,884.6 L904.1,884.2 L906.3,885.2 L908.5,886.1 L910.7,886.8 L912.9,884.7 L915.1,883.8 L917.3,884.5 L919.5,884.2 L921.7,886.1 L923.9,884.8 L926.1,885.5 L928.3,884.4 L930.5,885.3 L932.7,887.6 L934.9,890.7 L937.1,890.2 L939.3,892.5 L941.5,891.8 L943.7,893.3 L945.9,893.6 L948.1,893.8 L950.3,894.7 L952.5,894.9 L954.7,892.4 L956.9,894.0 L959.1,893.1 L961.3,896.7 L963.5,896.6 L965.7,897.1 L967.9,897.6 L970.1,898.7 L972.3,899.6 L974.5,898.5 L976.7,898.7 L978.9,897.4 L981.1,896.7 L983.3,894.8 L985.5,894.4 L987.7,893.7 L989.9,898.5 L992.1,895.6 L994.3,895.7 L996.5,897.9 L998.7,899.9 L1000.9,901.0 L1003.1,902.9 L1005.3,906.1 L1006.8,908.7" pathLength="412.21" stroke-dasharray="36 10 7.5 10"/>
<!-- (e) -->
<path d="M94.5,852.1 L96.7,850.2 L98.9,849.2 L101.1,847.0 L103.3,842.9 L105.5,841.6 L107.7,840.0 L109.9,838.4 L112.1,834.7 L114.3,831.6 L115.1,831.9" pathLength="31.82" stroke-dasharray="36 4.5 7.5 3.5 7.5 4.5" stroke-dashoffset="31.68"/>
<path d="M115.1,831.9 L116.5,832.4 L118.7,834.9 L120.9,834.3 L123.1,837.9 L125.3,840.3 L127.5,840.3 L129.7,840.8 L131.9,843.3 L134.1,840.9 L136.3,838.9 L138.5,834.0 L140.7,835.4 L142.9,833.8 L145.1,828.5 L147.3,824.6 L149.5,824.5 L151.7,826.0 L153.9,827.6 L156.1,827.7 L158.3,828.1 L160.5,827.9 L162.7,831.8 L164.9,830.7 L167.1,827.0 L169.3,825.4" pathLength="63.50" stroke-dasharray="36 4.5 7.5 3.5 7.5 4.5"/>
<path d="M169.3,825.4 L169.3,825.4 L171.5,827.0 L173.7,828.2 L175.9,821.6 L178.1,816.2 L180.3,808.0 L182.5,805.4 L184.7,801.7 L186.9,800.8 L189.1,798.0 L191.3,795.1 L193.5,787.8 L195.7,781.5 L197.5,774.9" pathLength="63.50" stroke-dasharray="36 4.5 7.5 3.5 7.5 4.5"/>
<path d="M197.5,774.9 L197.9,773.3 L200.1,769.7 L202.3,768.6 L204.5,765.0 L206.7,755.0 L208.9,746.8 L211.1,745.2 L213.3,746.4 L215.5,745.8 L217.7,742.1 L219.9,736.2 L222.1,725.5 L222.3,724.8" pathLength="63.50" stroke-dasharray="36 4.5 7.5 3.5 7.5 4.5"/>
<path d="M222.3,724.8 L224.3,717.7 L226.5,716.9 L228.7,715.1 L230.9,713.4 L233.1,710.5 L235.3,704.4 L237.5,693.9 L239.7,689.6 L241.9,683.5 L244.1,676.8 L246.2,672.1" pathLength="63.50" stroke-dasharray="36 4.5 7.5 3.5 7.5 4.5"/>
<path d="M246.2,672.1 L246.3,671.8 L248.5,660.8 L250.7,652.3 L252.9,641.6 L255.1,634.3 L257.3,629.2 L259.5,621.6 L261.7,615.6 L263.9,608.6 L264.5,606.9" pathLength="63.50" stroke-dasharray="36 4.5 7.5 3.5 7.5 4.5"/>
<path d="M264.5,606.9 L266.1,602.5 L268.3,598.0 L270.5,597.0 L272.7,595.2 L274.9,598.1 L277.1,605.1 L279.3,600.7 L281.5,597.7 L283.7,600.6 L285.9,603.0 L288.1,606.8 L290.3,608.2 L292.5,607.9 L294.7,606.0 L296.9,606.7 L299.1,604.6 L301.3,602.6 L303.2,601.4" pathLength="63.50" stroke-dasharray="36 4.5 7.5 3.5 7.5 4.5"/>
<path d="M303.2,601.4 L303.5,601.2 L305.7,599.3 L307.9,601.0 L310.1,602.1 L312.3,602.3 L314.5,604.3 L316.7,607.5 L318.9,611.4 L321.1,616.0 L323.3,621.3 L325.5,617.9 L327.7,615.2 L329.9,612.1 L332.1,606.9 L334.3,603.0 L336.5,600.5 L338.7,599.3 L340.9,597.9 L343.1,596.6 L344.3,595.8" pathLength="63.50" stroke-dasharray="36 4.5 7.5 3.5 7.5 4.5"/>
<path d="M344.3,595.8 L345.3,595.2 L347.5,599.1 L349.7,599.1 L351.9,597.6 L354.1,592.6 L356.3,589.5 L358.5,588.5 L360.7,589.5 L362.9,585.3 L365.1,580.5 L367.3,575.9 L369.5,571.4 L371.7,569.8 L373.9,567.6 L376.1,565.2 L378.3,563.3 L379.8,563.3" pathLength="63.50" stroke-dasharray="36 4.5 7.5 3.5 7.5 4.5"/>
<path d="M379.8,563.3 L380.5,563.2 L382.7,564.3 L384.9,563.2 L387.1,565.4 L389.3,566.0 L391.5,567.2 L393.7,569.3 L395.9,567.7 L398.1,567.8 L400.3,567.2 L402.5,568.2 L404.7,571.7 L406.9,576.0 L409.1,580.2 L411.3,583.9 L413.5,585.7 L415.7,589.8 L417.9,592.2 L418.1,592.7" pathLength="63.50" stroke-dasharray="36 4.5 7.5 3.5 7.5 4.5"/>
<path d="M418.1,592.7 L420.1,597.6 L422.3,602.8 L424.5,607.9 L426.7,610.8 L428.9,614.0 L431.1,619.0 L433.3,625.8 L435.5,630.4 L437.7,635.5 L439.9,641.6 L442.1,645.6 L443.4,649.1" pathLength="63.50" stroke-dasharray="36 4.5 7.5 3.5 7.5 4.5"/>
<path d="M443.4,649.1 L444.3,651.6 L446.5,657.5 L448.7,659.9 L450.9,663.7 L453.1,665.6 L455.3,670.7 L457.5,677.3 L459.7,685.5 L461.9,693.4 L463.7,700.1" pathLength="63.50" stroke-dasharray="36 4.5 7.5 3.5 7.5 4.5"/>
<path d="M463.7,700.1 L464.1,701.3 L466.3,700.9 L468.5,702.9 L470.7,706.4 L472.9,708.3 L475.1,709.3 L477.3,710.0 L479.5,709.8 L481.7,716.0 L483.9,721.4 L486.1,723.5 L488.3,728.4 L490.5,729.1 L492.7,732.1 L494.9,731.6 L497.1,732.5 L499.3,734.3 L501.5,735.4 L503.5,737.9" pathLength="63.50" stroke-dasharray="36 4.5 7.5 3.5 7.5 4.5"/>
<path d="M503.5,737.9 L503.7,738.2 L505.9,740.3 L508.1,746.8 L510.3,746.9 L512.5,746.5 L514.7,746.1 L516.9,748.1 L519.1,751.0 L521.3,747.0 L523.5,745.6 L525.7,741.1 L527.9,739.7 L530.1,741.3 L532.3,742.6 L534.5,743.5 L536.7,744.2 L538.9,743.9 L541.1,749.0 L543.3,753.2 L545.5,756.1 L547.7,756.9 L549.9,757.9 L552.1,757.1 L554.3,757.9 L556.5,748.7 L558.7,745.4 L560.9,744.5 L563.1,742.8 L565.3,744.5 L567.5,747.6 L569.7,751.8 L571.9,753.6 L574.1,758.1 L575.2,760.8" pathLength="127.00" stroke-dasharray="36 4.5 7.5 3.5 7.5 4.5"/>
<path d="M575.2,760.8 L576.3,763.3 L578.5,765.5 L580.7,765.0 L582.9,763.3 L585.1,757.8 L587.3,753.2 L589.5,748.4 L591.7,745.8 L593.9,744.0 L596.1,736.2 L598.3,732.8 L600.5,733.0 L602.7,735.7 L604.9,741.4 L607.1,746.5 L609.3,752.2 L609.6,753.5" pathLength="63.50" stroke-dasharray="36 4.5 7.5 3.5 7.5 4.5"/>
<path d="M609.6,753.5 L611.5,760.6 L613.7,769.4 L615.9,770.6 L618.1,772.9 L620.3,779.2 L622.5,780.1 L624.7,778.2 L626.9,776.4 L629.1,775.8 L631.3,775.8 L633.5,779.2 L635.7,783.0 L637.9,786.4 L640.1,789.6 L642.3,793.2 L644.5,795.6 L646.4,797.3" pathLength="63.50" stroke-dasharray="36 4.5 7.5 3.5 7.5 4.5"/>
<path d="M646.4,797.3 L646.7,797.6 L648.9,803.4 L651.1,802.7 L653.3,802.3 L655.5,800.7 L657.7,798.8 L659.9,801.5 L662.1,804.0 L664.3,806.1 L666.5,805.8 L668.7,806.0 L670.9,805.9 L673.1,805.4 L675.3,804.0 L677.5,804.1 L679.7,804.1 L681.9,803.6 L684.1,806.0 L686.3,803.9 L688.5,806.8 L690.7,809.3 L692.9,804.0 L695.1,803.6 L697.3,800.1 L699.5,799.9 L701.7,799.1 L703.9,797.4 L706.1,798.5 L708.3,798.4 L710.5,798.9 L712.7,798.4 L714.9,798.3 L717.1,803.0 L719.3,805.4 L721.5,805.2 L723.7,803.8 L725.9,801.5 L728.1,801.4 L730.3,800.0 L732.5,804.8 L734.7,803.9 L736.9,804.1 L739.1,806.3 L741.3,807.7 L743.5,803.7 L745.7,799.3 L747.9,801.5 L750.1,803.3 L752.3,804.4 L754.5,811.7 L756.7,816.8 L758.9,821.5 L761.1,828.0 L763.3,829.3 L765.5,828.9 L767.7,827.4 L769.9,827.0 L772.1,829.5 L774.3,830.5 L776.5,836.3 L778.7,838.9 L780.9,843.4 L783.1,847.5 L785.3,856.5 L787.5,858.0 L789.7,856.7 L791.9,859.0 L794.1,859.9 L796.3,858.0 L798.5,856.6 L800.7,857.6 L802.9,858.3 L805.1,861.2 L807.3,862.5 L809.5,862.7 L811.7,864.9 L813.9,867.6 L816.1,870.2 L818.3,871.1 L820.5,872.3 L822.7,874.5 L824.9,873.4 L827.1,871.0 L829.3,869.6 L831.5,874.3 L833.7,875.2 L835.9,876.0 L838.1,878.4 L840.3,874.1 L842.5,867.4 L844.7,865.9 L846.9,865.6 L849.1,866.1 L851.3,868.5 L853.5,871.2 L855.7,875.8 L857.9,881.9 L860.1,884.6 L862.3,883.7 L864.5,884.9 L866.7,887.8 L868.9,889.9 L871.1,891.0 L873.3,892.9 L875.5,894.9 L877.7,893.8 L879.9,889.8 L882.1,889.3 L884.3,888.3 L886.5,887.8 L888.7,886.2 L890.9,887.5 L893.1,885.7 L895.3,892.0 L897.5,895.1 L899.7,899.9 L901.9,900.9 L904.1,899.3 L906.3,899.9 L908.5,898.1 L910.7,899.0 L912.9,899.7 L915.1,896.3 L917.3,891.5 L919.5,891.3 L921.7,891.9 L923.9,890.7 L926.1,889.0 L928.3,890.4 L930.5,891.5 L932.7,891.0 L934.9,892.2 L937.1,894.7 L939.3,897.1 L941.5,895.1 L943.7,900.6 L945.9,902.3 L948.1,902.7 L950.3,902.3 L952.5,903.8 L954.7,903.3 L956.9,899.8 L959.1,900.3 L961.3,899.1 L963.5,900.8 L965.7,900.6 L967.9,899.9 L970.1,900.3 L972.3,901.3 L974.5,901.2 L976.7,902.4 L978.9,902.7 L981.1,903.3 L983.3,905.3 L985.5,906.0 L987.7,910.0 L989.9,914.8 L992.1,915.6 L994.3,913.5 L996.5,913.4 L998.7,910.2 L1000.9,909.0 L1003.1,909.1 L1005.3,910.4 L1006.8,912.1" pathLength="548.28" stroke-dasharray="36 4.5 7.5 3.5 7.5 4.5"/>
</g>
<g fill="none" stroke="#000" stroke-width="4.4">
<rect x="93" y="22.2" width="914.3" height="914.7"/>
<path d="M354,936.9V907.5M354,22.2V51.599999999999994"/><path d="M615,936.9V907.5M615,22.2V51.599999999999994"/><path d="M876.7,936.9V907.5M876.7,22.2V51.599999999999994"/><path d="M223.5,936.9V921.4M223.5,22.2V37.7"/><path d="M485,936.9V921.4M485,22.2V37.7"/><path d="M746,936.9V921.4M746,22.2V37.7"/>
</g>
<g fill="none" stroke="#000" stroke-width="4">
<path d="M767,167.2H874.5"/>
<path d="M775,218.2H810.75M838.25,218.2H874.5"/>
<path d="M775,270.7H874.5" stroke-dasharray="7.5 10.9"/>
<path d="M775,321.5H810.75M820.75,321.5H828.25M838.25,321.5H874.5"/>
<path d="M775,373.5H810.75M815.25,373.5H822.75M826.25,373.5H833.75M838.25,373.5H874.5"/>
</g>
<g class="b" font-size="51.5">
<text x="885.5" y="187.1">(a)</text>
<text x="885.5" y="238.7">(b)</text>
<text x="885.5" y="290.3">(c)</text>
<text x="885.5" y="341.9">(d)</text>
<text x="885.5" y="393.4">(e)</text>
</g>
<g font-size="65" letter-spacing="0.8">
<text x="94.5" y="995.1">1020</text>
<text x="355.5" y="995.1">1000</text>
<text x="616.5" y="995.1">980</text>
<text x="877.5" y="995.1">960</text>
</g>
<text class="b" font-size="63.5" x="294.8 360.2 391.5 427.7 457.3 495.6 532.7 585.4 618.0 648.1 675.6 696.1 723.4" y="1045.3">Wavenumber/cm</text>
<text class="b" font-size="46" x="770 783.6" y="1015">-1</text>
<text class="b" font-size="63.5" transform="translate(56.2,0) rotate(-90)" x="-706.3 -660.1 -628.3 -575.4 -544.8 -507.5 -490.7 -475.8 -438.4 -416.6 -389.0 -350.8 -327.3 -310.8 -289.6" y="0">Raman intensity</text>
</svg>
</body></html>
